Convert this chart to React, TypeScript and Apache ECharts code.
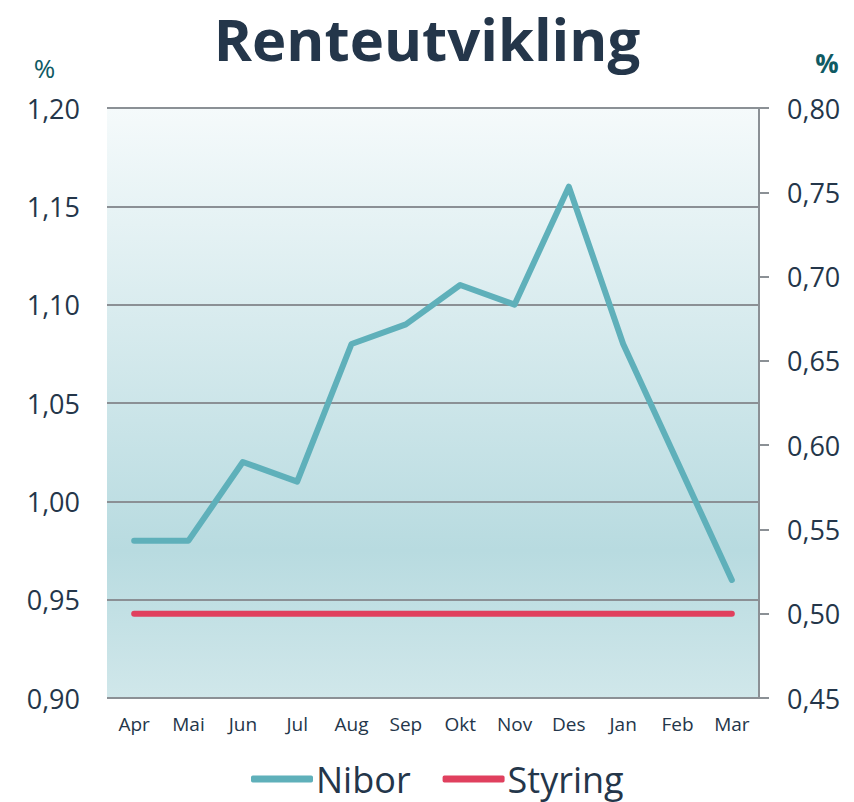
import React, { useEffect, useRef } from "react";
import * as echarts from "echarts";

const months = ["Apr", "Mai", "Jun", "Jul", "Aug", "Sep", "Okt", "Nov", "Des", "Jan", "Feb", "Mar"];
const nibor = [0.98, 0.98, 1.02, 1.01, 1.08, 1.09, 1.11, 1.1, 1.16, 1.08, 1.02, 0.96];
const styring = [0.5, 0.5, 0.5, 0.5, 0.5, 0.5, 0.5, 0.5, 0.5, 0.5, 0.5, 0.5];

const FONT = "Open Sans";
const TXT = "#24364a";

export default function App() {
  const ref = useRef<HTMLDivElement>(null);
  useEffect(() => {
    document.body.style.margin = "0";
    const chart = echarts.init(ref.current!, null, { renderer: "svg" });
    const fmt = (v: number) => v.toFixed(2).replace(".", ",");
    chart.setOption({
      animation: false,
      title: {
        text: "Renteutvikling",
        left: "center",
        top: 4,
        textStyle: { fontFamily: FONT, fontWeight: "bold", fontSize: 58, color: TXT },
      },
      legend: {
        bottom: 0,
        left: 246,
        icon: "roundRect",
        itemWidth: 62,
        itemHeight: 7,
        itemGap: 32,
        textStyle: { fontFamily: FONT, fontSize: 36, color: TXT, padding: [0, 0, 0, -2] },
        data: ["Nibor", "Styring"],
      },
      grid: {
        left: 107,
        right: 95,
        top: 108,
        bottom: 104,
        show: true,
        borderWidth: 0,
        backgroundColor: new echarts.graphic.LinearGradient(0, 0, 0, 1, [
          { offset: 0, color: "#f5fafb" },
          { offset: 0.75, color: "#b8dbe0" },
          { offset: 1, color: "#d0e7ea" },
        ]),
      },
      xAxis: {
        type: "category",
        data: months,
        boundaryGap: true,
        axisLine: { show: false },
        axisTick: { show: false },
        axisLabel: { fontFamily: FONT, fontSize: 19, color: TXT, margin: 16, interval: 0 },
      },
      yAxis: [
        {
          type: "value",
          min: 0.9,
          max: 1.2,
          interval: 0.05,
          name: "%",
          nameLocation: "end",
          nameGap: 27,
          nameTextStyle: { fontFamily: FONT, fontSize: 26, color: "#0f5a63", align: "center", padding: [0, 0, 0, -125] },
          axisLine: { show: false },
          axisTick: { show: false },
          axisLabel: { fontFamily: FONT, fontSize: 27, color: TXT, margin: 27, formatter: fmt },
          splitLine: { show: true, lineStyle: { color: "#8b9095", width: 2 } },
        },
        {
          type: "value",
          min: 0.45,
          max: 0.8,
          interval: 0.05,
          position: "right",
          name: "%",
          nameLocation: "end",
          nameGap: 32,
          nameTextStyle: { fontFamily: FONT, fontSize: 26, fontWeight: "bold", color: "#0f5a63", align: "center", padding: [0, 0, 0, 136] },
          axisLine: { show: true, lineStyle: { color: "#8b9095", width: 2 } },
          axisTick: { show: true, length: 10, lineStyle: { color: "#8b9095", width: 2 } },
          axisLabel: { fontFamily: FONT, fontSize: 27, color: TXT, margin: 28, formatter: fmt },
          splitLine: { show: false },
        },
      ],
      series: [
        {
          name: "Nibor",
          type: "line",
          yAxisIndex: 0,
          data: nibor,
          symbol: "none",
          color: "#5fb0ba",
          lineStyle: { width: 6, color: "#5fb0ba", cap: "round", join: "round" },
        },
        {
          name: "Styring",
          type: "line",
          yAxisIndex: 1,
          data: styring,
          symbol: "none",
          color: "#e0405e",
          lineStyle: { width: 6, color: "#e0405e", cap: "round" },
        },
      ],
    });
    return () => chart.dispose();
  }, []);
  return <div ref={ref} style={{ width: 854, height: 802 }} />;
}
